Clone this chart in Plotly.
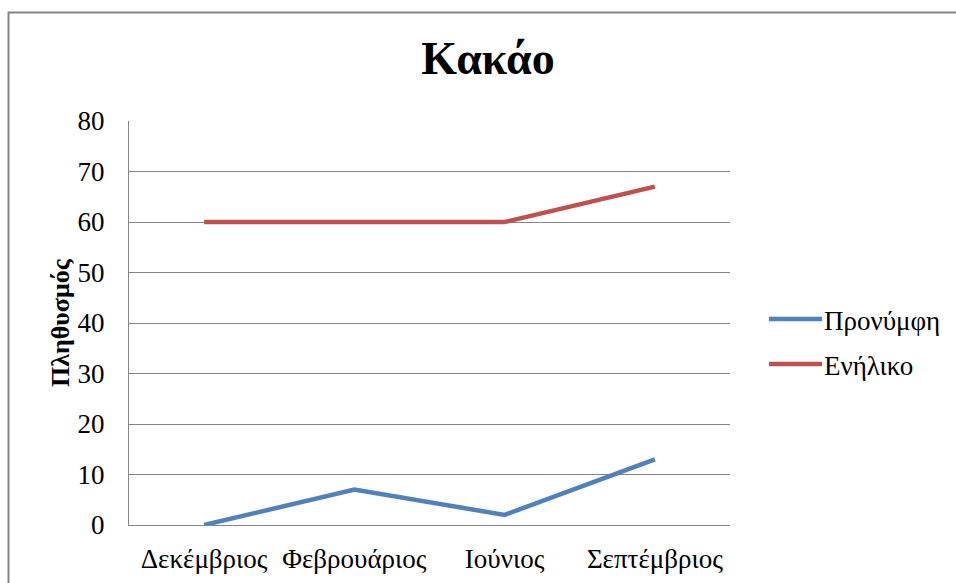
import plotly.graph_objects as go

# Data
months = ["Δεκέμβριος", "Φεβρουάριος", "Ιούνιος", "Σεπτέμβριος"]
larva = [0, 7, 2, 13]
adult = [60, 60, 60, 67]
series_names = ["Προνύμφη", "Ενήλικο"]
series_colors = ["#4F81BD", "#C0504D"]
y_ticks = [0, 10, 20, 30, 40, 50, 60, 70, 80]

W, H = 956, 583
ML, MR, MT, MB = 129, 226, 121, 58
PW, PH = W - ML - MR, H - MT - MB
FONT = "Liberation Serif, Times New Roman, serif"


def px_x(px):
    return (px - ML) / PW


def px_y(py):
    return (H - MB - py) / PH


fig = go.Figure()
for name, vals, color in zip(series_names, [larva, adult], series_colors):
    fig.add_trace(go.Scatter(
        x=months, y=vals, name=name, mode="lines",
        line=dict(color=color, width=4.5), showlegend=False,
    ))

shapes = [
    # outer chart frame
    dict(type="rect", xref="paper", yref="paper",
         x0=px_x(8.5), x1=px_x(1100), y0=px_y(700), y1=px_y(12.5),
         line=dict(color="#868686", width=2), fillcolor="rgba(0,0,0,0)",
         layer="below"),
]
annotations = [
    dict(text="Πληθυσμός", xref="paper", yref="paper",
         x=px_x(60), y=px_y(323), textangle=-90, showarrow=False,
         xanchor="center", yanchor="middle",
         font=dict(family=FONT, size=26, color="#000000", weight="bold")),
]

# legend entries
legend_y = [319, 364]
for name, color, ly in zip(series_names, series_colors, legend_y):
    shapes.append(dict(type="line", xref="paper", yref="paper",
                       x0=px_x(769), x1=px_x(822), y0=px_y(ly), y1=px_y(ly),
                       line=dict(color=color, width=4.5)))
    annotations.append(dict(text=name, xref="paper", yref="paper",
                            x=px_x(822), y=px_y(ly + 2), showarrow=False,
                            xanchor="left", yanchor="middle",
                            font=dict(family=FONT, size=27, color="#000000")))

fig.update_layout(
    width=W, height=H,
    margin=dict(l=ML, r=MR, t=MT, b=MB, autoexpand=False),
    paper_bgcolor="#ffffff", plot_bgcolor="#ffffff",
    title=dict(text="Κακάο", x=488 / W, xref="container", xanchor="center",
               y=1 - 58 / H, yref="container", yanchor="middle",
               font=dict(family=FONT, size=46, color="#000000", weight="bold")),
    xaxis=dict(type="category", range=[-0.5, 3.5], showgrid=False,
               showline=True, linecolor="#868686", linewidth=1,
               ticks="", ticklabelstandoff=10, automargin=False,
               tickfont=dict(family=FONT, size=27, color="#000000")),
    yaxis=dict(range=[0, 80], tickvals=y_ticks, showgrid=True,
               gridcolor="#868686", gridwidth=1, zeroline=False,
               showline=True, linecolor="#868686", linewidth=1,
               ticks="", ticklabelstandoff=18, automargin=False,
               tickfont=dict(family=FONT, size=27, color="#000000")),
    shapes=shapes, annotations=annotations,
)

fig.write_html("out.html")
